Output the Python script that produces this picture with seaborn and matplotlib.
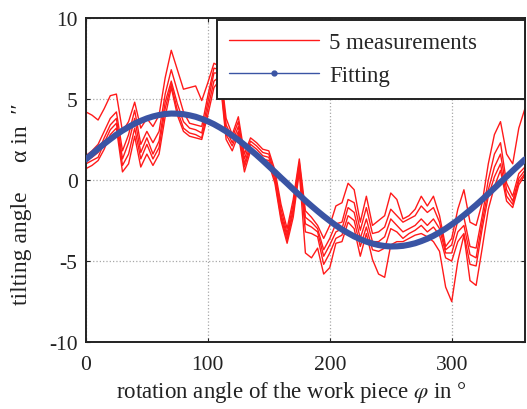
import numpy as np
import pandas as pd
import matplotlib
matplotlib.use("Agg")
import matplotlib.pyplot as plt
from matplotlib.lines import Line2D
import seaborn as sns

phi = list(range(0, 361, 5))

meas_a = [4.2, 4.0, 3.7, 4.4, 5.2, 5.3, 3.0, 3.6, 4.8, 3.2, 3.8, 3.3, 4.0, 6.3, 8.0, 6.8, 5.6, 5.7, 5.8, 4.9,
          6.0, 7.2, 7.0, 3.8, 2.8, 3.9, 1.6, 2.6, 2.3, 1.9, 1.8, 0.6, -1.5, -3.0, -1.2, 1.3, -1.9, -2.3, -2.8, -3.6,
          -2.8, -1.6, -1.4, -0.2, -0.6, -2.6, -1.0, -2.8, -2.5, -2.2, -0.8, -1.2, -2.4, -2.2, -1.8, -1.0, -1.6, -1.0, -2.2, -4.1,
          -3.6, -1.8, -0.6, -2.6, -2.8, -1.4, 1.0, 2.8, 3.6, 1.6, 1.0, 3.2, 4.4]
meas_b = [1.5, 1.8, 2.2, 3.0, 3.8, 4.2, 1.8, 2.8, 4.3, 2.2, 3.0, 2.3, 3.0, 5.3, 6.8, 5.5, 4.2, 3.5, 3.4, 3.3,
          5.2, 6.9, 6.8, 3.4, 2.6, 3.6, 1.3, 2.4, 2.1, 1.7, 1.6, 0.4, -1.8, -3.3, -1.5, 1.1, -2.3, -2.6, -3.0, -4.3,
          -3.6, -2.7, -2.6, -1.2, -1.4, -3.1, -1.7, -3.3, -3.2, -2.9, -1.8, -2.2, -2.6, -2.4, -2.2, -1.6, -2.0, -1.7, -2.6, -4.3,
          -4.0, -2.5, -2.3, -4.1, -4.2, -2.2, 0.0, 1.6, 2.3, -0.2, -1.0, 0.4, 0.8]
meas_c = [1.2, 1.4, 1.7, 2.6, 3.4, 3.8, 1.3, 2.3, 3.8, 1.7, 2.6, 1.6, 2.4, 4.8, 6.1, 4.7, 3.6, 3.2, 3.1, 2.9,
          4.8, 6.6, 6.6, 3.1, 2.3, 3.3, 1.0, 2.2, 1.9, 1.5, 1.4, 0.2, -2.1, -3.5, -1.8, 0.9, -2.7, -2.9, -3.2, -4.7,
          -4.0, -3.2, -3.0, -1.7, -2.0, -3.6, -2.4, -3.8, -3.8, -3.5, -2.4, -2.8, -3.2, -3.0, -2.8, -2.4, -2.8, -2.4, -3.0, -4.5,
          -4.5, -3.2, -2.8, -4.6, -4.8, -2.6, -0.6, 0.8, 1.6, -0.6, -1.3, 0.1, 0.6]
meas_d = [1.0, 1.2, 1.4, 2.3, 3.1, 3.5, 0.9, 1.6, 3.2, 1.3, 2.2, 1.3, 2.0, 4.4, 5.9, 4.3, 3.2, 2.9, 2.8, 2.6,
          4.4, 6.1, 6.4, 2.8, 2.1, 3.0, 0.8, 2.0, 1.6, 1.3, 1.2, 0.0, -2.3, -3.7, -2.0, 0.7, -3.2, -3.3, -3.5, -5.2,
          -4.5, -3.6, -3.4, -2.2, -2.5, -4.1, -2.9, -4.3, -4.4, -4.2, -3.0, -3.2, -3.6, -3.3, -3.1, -2.8, -3.2, -2.9, -3.4, -4.8,
          -5.0, -3.8, -3.3, -5.2, -5.3, -3.0, -1.0, 0.2, 1.0, -1.0, -1.5, -0.1, 0.4]
meas_e = [0.7, 0.9, 1.2, 1.9, 2.8, 3.2, 0.5, 1.0, 2.7, 0.8, 1.6, 0.9, 1.6, 3.9, 5.7, 4.0, 3.0, 2.7, 2.6, 2.5,
          4.0, 5.7, 6.2, 2.5, 1.8, 2.8, 0.5, 1.8, 1.4, 1.1, 1.0, -0.2, -2.5, -3.9, -2.3, 0.5, -4.5, -4.8, -4.2, -5.8,
          -5.4, -3.9, -3.8, -2.6, -3.0, -4.7, -3.3, -4.9, -5.8, -6.0, -4.0, -3.8, -3.8, -3.6, -3.4, -3.3, -3.5, -3.8, -4.4, -6.6,
          -7.5, -5.0, -3.4, -6.2, -6.5, -4.2, -1.8, -0.4, 0.6, -1.3, -1.7, -0.3, 0.3]

fit = [1.27, 1.60, 1.92, 2.23, 2.52, 2.80, 3.05, 3.27, 3.48, 3.65, 3.80, 3.92, 4.01, 4.07, 4.10, 4.09, 4.06, 3.99,
       3.90, 3.77, 3.62, 3.44, 3.23, 3.00, 2.74, 2.47, 2.17, 1.86, 1.54, 1.20, 0.85, 0.50, 0.14, -0.21, -0.57, -0.92,
       -1.27, -1.60, -1.92, -2.23, -2.52, -2.80, -3.05, -3.27, -3.48, -3.65, -3.80, -3.92, -4.01, -4.07, -4.10, -4.09,
       -4.06, -3.99, -3.90, -3.77, -3.62, -3.44, -3.23, -3.00, -2.74, -2.47, -2.17, -1.86, -1.54, -1.20, -0.85, -0.50,
       -0.14, 0.21, 0.57, 0.92, 1.27]

x_ticks = [0, 100, 200, 300]
y_ticks = [-10, -5, 0, 5, 10]
legend_labels = ["5 measurements", "Fitting"]

sns.set_theme(style="white")
plt.rcParams["font.family"] = ["Liberation Serif", "DejaVu Serif"]
plt.rcParams["mathtext.fontset"] = "stix"
plt.rcParams["axes.unicode_minus"] = False

rows = []
for k, arr in enumerate([meas_a, meas_b, meas_c, meas_d, meas_e]):
    for p, v in zip(phi, arr):
        rows.append({"phi": p, "value": v, "run": k})
df = pd.DataFrame(rows)
df_fit = pd.DataFrame({"phi": phi, "value": fit})

fig = plt.figure(figsize=(5.27, 4.10), dpi=100)
ax = fig.add_axes([0.163, 0.163, 0.833, 0.791])

red = "#ff1a1a"
blue = "#3a54a4"
sns.lineplot(data=df, x="phi", y="value", units="run", estimator=None, color=red,
             linewidth=1.0, ax=ax, legend=False)
sns.lineplot(data=df_fit, x="phi", y="value", color=blue, linewidth=4.4, ax=ax,
             legend=False, zorder=3)

ax.set_xlim(0, 360)
ax.set_ylim(-10, 10)
ax.set_xticks(x_ticks)
ax.set_yticks(y_ticks)
ax.grid(True, color="#a8a8a8", linestyle=":", linewidth=0.9)
ax.tick_params(direction="in", length=3, width=0.8, labelsize=15.5, colors="#222222",
               top=True, right=True, bottom=True, left=True)
ax.tick_params(axis="x", pad=9)
ax.tick_params(axis="y", pad=6)
for lab in ax.get_xticklabels() + ax.get_yticklabels():
    lab.set_color("#222222")
for s in ax.spines.values():
    s.set_color("#222222")
    s.set_linewidth(1.4)

ax.set_xlabel(r"rotation angle of the work piece $\varphi$ in °", fontsize=16.5, color="#222222")
ax.set_ylabel("tilting angle     α in  ′′", fontsize=17, color="#222222")
ax.xaxis.set_label_coords(0.469, -0.115)
ax.yaxis.set_label_coords(-0.123, 0.43)

handles = [Line2D([0], [0], color=red, linewidth=1.0),
           Line2D([0], [0], color=blue, linewidth=1.0, marker=".", markersize=7, markevery=[1])]
leg = ax.legend(handles, legend_labels, loc="upper left", bbox_to_anchor=(0.298, 0.0, 0.702, 0.994),
                mode="expand", frameon=True, fancybox=False, framealpha=1.0, edgecolor="#222222",
                fontsize=16.5, handlelength=3.9, handletextpad=0.45, borderpad=0.55,
                labelspacing=0.5, borderaxespad=0.0)
leg.get_frame().set_linewidth(1.4)
leg.set_zorder(10)

fig.savefig("out.png", dpi=100)
